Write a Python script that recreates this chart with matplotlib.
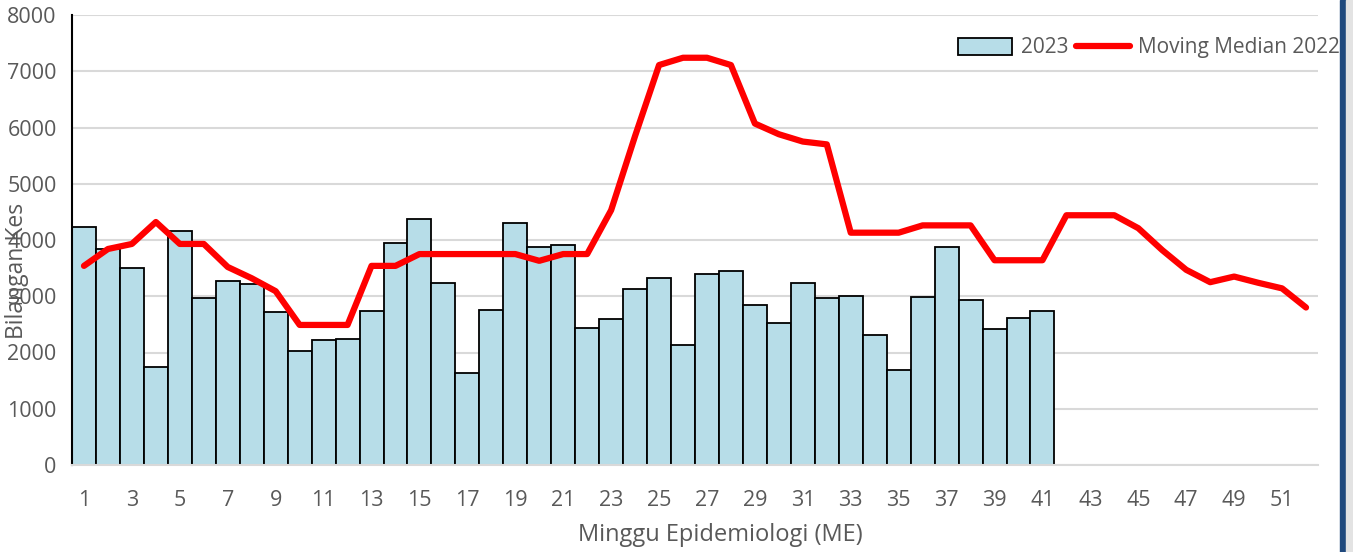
import numpy as np
import matplotlib
matplotlib.use('Agg')
import matplotlib.pyplot as plt
from matplotlib.patches import Rectangle

plt.rcParams['font.family'] = ['Open Sans', 'DejaVu Sans']

# weekly cases 2023 (ME 1-41)
weeks = np.arange(1, 53)
cases_2023 = [4230, 3840, 3500, 1740, 4160, 2970, 3270, 3220, 2720, 2030,
              2220, 2240, 2740, 3950, 4370, 3240, 1640, 2760, 4300, 3880,
              3910, 2440, 2600, 3130, 3320, 2130, 3400, 3450, 2840, 2520,
              3240, 2970, 3000, 2310, 1690, 2990, 3880, 2930, 2420, 2610,
              2740]
# moving median 2022 (ME 1-52)
median_2022 = [3540, 3840, 3930, 4320, 3930, 3930, 3520, 3320, 3090, 2490,
               2490, 2490, 3540, 3540, 3750, 3750, 3750, 3750, 3750, 3630,
               3750, 3750, 4530, 5850, 7110, 7240, 7240, 7110, 6070, 5880,
               5750, 5700, 4130, 4130, 4130, 4260, 4260, 4260, 3640, 3640,
               3640, 4440, 4440, 4440, 4210, 3820, 3470, 3250, 3350, 3240,
               3140, 2800]

grey = '#595959'

fig = plt.figure(figsize=(13.53, 5.52), dpi=100)
ax = fig.add_axes([72/1353, 1-465/552, (1318-72)/1353, 450/552])

bars = ax.bar(weeks[:len(cases_2023)], cases_2023, width=1.0, color='#b7dde8',
              edgecolor='black', linewidth=1.3, label='2023', zorder=2)
line, = ax.plot(weeks, median_2022, color='#ff0000', linewidth=4.5,
                solid_capstyle='round', solid_joinstyle='round',
                label='Moving Median 2022', zorder=3)

ax.set_xlim(0.5, 52.5)
ax.set_ylim(0, 8000)
ax.set_yticks(np.arange(0, 8001, 1000))
ax.set_xticks(weeks[::2])
ax.yaxis.grid(True, color='#d9d9d9', linewidth=1.5, zorder=0)
ax.set_axisbelow(True)
ax.tick_params(axis='both', length=0, labelsize=15.5, colors=grey)
ax.tick_params(axis='y', pad=11)
ax.tick_params(axis='x', pad=18)

for s in ['top', 'right']:
    ax.spines[s].set_visible(False)
ax.spines['left'].set_color('black')
ax.spines['left'].set_linewidth(1.5)
ax.spines['bottom'].set_color('#d9d9d9')
ax.spines['bottom'].set_linewidth(1.5)

fig.text(720/1353, 1-535/552, 'Minggu Epidemiologi (ME)', ha='center',
         va='center', fontsize=17, color=grey)
fig.text(17/1353, 1-271/552, 'Bilangan Kes', ha='center', va='center',
         rotation=90, fontsize=16.5, color=grey)

ax.legend([bars, line], ['2023', 'Moving Median 2022'],
          loc='center right', bbox_to_anchor=(1340/1353, 1-48/552),
          bbox_transform=fig.transFigure, ncol=2, frameon=False,
          fontsize=15, labelcolor=grey, handlelength=2.6, handleheight=0.85,
          handletextpad=0.4, columnspacing=0.35, borderpad=0, borderaxespad=0)

# right border strip
fig.patches.append(Rectangle((1340/1353, 0), 6/1353, 1, transform=fig.transFigure,
                             color='#1f497d', zorder=5))
fig.patches.append(Rectangle((1346/1353, 0), 7/1353, 1, transform=fig.transFigure,
                             color='#e3e3e3', zorder=5))

plt.savefig('out.png', dpi=100)
